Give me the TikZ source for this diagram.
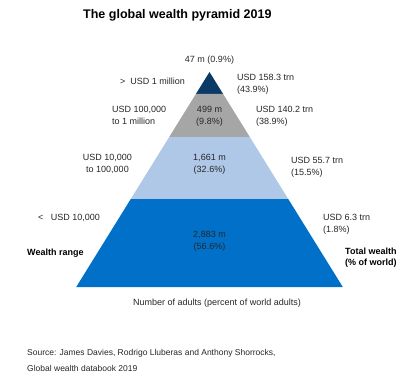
\documentclass[tikz,border=0pt]{standalone}
\usepackage{fontspec}
\setmainfont{Liberation Sans}
\definecolor{topnavy}{HTML}{0B3A66}
\definecolor{bandgray}{HTML}{A6A6A6}
\definecolor{bandlight}{HTML}{AFC8E8}
\definecolor{bandblue}{HTML}{0070C9}
\definecolor{txtgray}{HTML}{262626}

\begin{document}
\begin{tikzpicture}[x=1pt, y=-1pt,
    lbl/.style={font=\fontsize{9}{12}\selectfont, text=txtgray, inner sep=0pt, align=left},
    lblw/.style={lbl, anchor=west},
    lblc/.style={lbl, align=center},
    hdr/.style={lbl, anchor=west, font=\fontsize{9}{11}\selectfont\bfseries, text=black}]
          \useasboundingbox (0,0) rectangle (414,385);

          % pyramid bands, apex at (209.5,72)
          \foreach \ytop/\ybot/\col in {72/94/topnavy, 94/137/bandgray, 137/199/bandlight, 199/287/bandblue}{
            \fill[\col] ({209.5-0.62*(\ytop-72)},\ytop) -- ({209.5+0.62*(\ytop-72)},\ytop)
              -- ({209.5+0.62*(\ybot-72)},\ybot) -- ({209.5-0.62*(\ybot-72)},\ybot) -- cycle;
          }

          \node[anchor=west, inner sep=0pt, font=\fontsize{12.5}{15}\selectfont\bfseries] (title) at (83,15) {The global wealth pyramid 2019};

          \node[lblc] (n1) at (209.5,60) {47 m (0.9\%)};
          \node[lblc] (n2) at (209.5,116) {499 m\\(9.8\%)};
          \node[lblc] (n3) at (209.5,164) {1,661 m\\(32.6\%)};
          \node[lblc] (n4) at (209.5,241) {2,883 m\\(56.6\%)};

          \node[lblw] (r1) at (120,81) {>\ \ USD 1 million};
          \node[lblw] (r2) at (112,115.5) {USD 100,000\\to 1 million};
          \node[lblc] (r3) at (107.5,164) {USD 10,000\\to 100,000};
          \node[lblw] (r4) at (38,218) {<\ \ \ USD 10,000};

          \node[lblw] (w1) at (237,84.5) {USD 158.3 trn\\(43.9\%)};
          \node[lblw] (w2) at (256,116) {USD 140.2 trn\\(38.9\%)};
          \node[lblw] (w3) at (291,167.5) {USD 55.7 trn\\(15.5\%)};
          \node[lblw] (w4) at (323,224.5) {USD 6.3 trn\\(1.8\%)};

          \node[hdr] (range) at (27,253) {Wealth range};
          \node[hdr, align=left] (total) at (345,258) {Total wealth\\(\% of world)};

          \node[lblc] (adults) at (217,303) {Number of adults (percent of world adults)};

          \node[lblw, font=\fontsize{8.5}{12}\selectfont] (source) at (27,360) {Source: James Davies, Rodrigo Lluberas and Anthony Shorrocks,\\[4pt]Global wealth databook 2019};
        \end{tikzpicture}
\end{document}
